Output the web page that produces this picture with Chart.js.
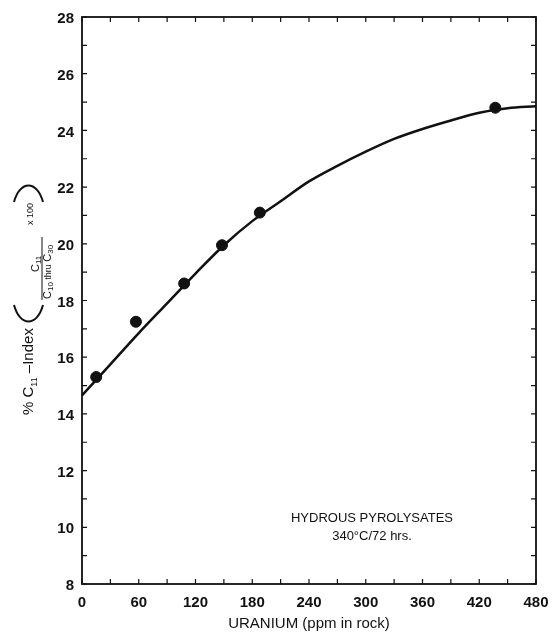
<!DOCTYPE html>
<html>
<head>
<meta charset="utf-8">
<script src="https://cdn.jsdelivr.net/npm/chart.js@4"></script>
<style>
  html, body { margin: 0; padding: 0; background: #fff; }
  #wrap { width: 553px; height: 632px; position: relative; }
</style>
</head>
<body>
<div id="wrap"><canvas id="chart" width="553" height="632"></canvas></div>
<script>
// measured samples
const uranium = [15, 57, 108, 148, 188, 437];
const c11Index = [15.3, 17.25, 18.6, 19.95, 21.1, 24.8];

// fitted curve
const curveX = [0, 30, 60, 90, 120, 150, 180, 210, 240, 270, 300, 330, 360, 390, 420, 450, 480];
const curveY = [14.65, 15.75, 16.85, 17.9, 18.95, 19.95, 20.8, 21.5, 22.2, 22.75, 23.25, 23.7, 24.05, 24.35, 24.62, 24.78, 24.85];

const xMin = 0, xMax = 480, xStep = 60;
const yMin = 8, yMax = 28, yStep = 2;

const FONT = "'Liberation Sans', Arial, sans-serif";
const INK = "#111";

// inward ticks on all four sides + box + text notes
const framePlugin = {
  id: "frame",
  afterDraw(c) {
    const { ctx, chartArea: a, scales } = c;
    const xs = scales.x, ys = scales.y;
    ctx.save();
    ctx.strokeStyle = INK;
    ctx.lineWidth = 1.8;
    ctx.strokeRect(a.left, a.top, a.right - a.left, a.bottom - a.top);

    ctx.lineWidth = 1.2;
    for (let v = xMin; v <= xMax; v += xStep / 2) {
      const px = xs.getPixelForValue(v);
      ctx.beginPath();
      ctx.moveTo(px, a.bottom); ctx.lineTo(px, a.bottom - 5);
      ctx.moveTo(px, a.top); ctx.lineTo(px, a.top + 5);
      ctx.stroke();
    }
    for (let v = yMin; v <= yMax; v += yStep / 2) {
      const py = ys.getPixelForValue(v);
      ctx.beginPath();
      ctx.moveTo(a.left, py); ctx.lineTo(a.left + 5, py);
      ctx.moveTo(a.right, py); ctx.lineTo(a.right - 5, py);
      ctx.stroke();
    }

    // note inside plot
    ctx.fillStyle = INK;
    ctx.textAlign = "center";
    ctx.textBaseline = "middle";
    ctx.font = "13px " + FONT;
    ctx.fillText("HYDROUS PYROLYSATES", 372, 518);
    ctx.fillText("340\u00B0C/72 hrs.", 372, 536);

    drawYTitle(ctx);
    ctx.restore();
  }
};

// rotated title: local y == screen x, local x == 298 - screen y
function drawYTitle(ctx) {
  ctx.save();
  ctx.translate(0, 298);
  ctx.rotate(-Math.PI / 2);
  ctx.fillStyle = INK;
  ctx.strokeStyle = INK;
  ctx.textBaseline = "alphabetic";
  ctx.textAlign = "left";

  let x = -117;
  function put(t, size, base) {
    ctx.font = size + "px " + FONT;
    ctx.fillText(t, x, base);
    x += ctx.measureText(t).width;
  }
  put("% C", 15, 33);
  put("11", 9, 37);
  put(" \u2013Index", 15, 33);

  // parentheses
  ctx.lineWidth = 2;
  ctx.beginPath();
  ctx.moveTo(-7, 14);
  ctx.bezierCurveTo(-29, 20, -29, 37, -7, 43);
  ctx.moveTo(96, 14);
  ctx.bezierCurveTo(118, 20, 118, 37, 96, 43);
  ctx.stroke();

  // fraction line
  ctx.lineWidth = 1;
  ctx.beginPath();
  ctx.moveTo(-2, 42); ctx.lineTo(61, 42);
  ctx.stroke();

  // numerator
  x = 26;
  put("C", 11, 39);
  put("11", 8, 41);

  // denominator
  x = -1;
  put("C", 11, 51);
  put("10", 8, 53);
  put(" thru ", 9, 51);
  put("C", 11, 51);
  put("30", 8, 53);

  x = 73;
  put("x 100", 9, 33);
  ctx.restore();
}

new Chart(document.getElementById("chart"), {
  type: "scatter",
  data: {
    datasets: [
      {
        label: "curve",
        type: "line",
        data: curveX.map((x, i) => ({ x, y: curveY[i] })),
        borderColor: INK,
        borderWidth: 2.5,
        pointRadius: 0,
        cubicInterpolationMode: "monotone",
        fill: false
      },
      {
        label: "samples",
        data: uranium.map((x, i) => ({ x, y: c11Index[i] })),
        backgroundColor: INK,
        borderColor: INK,
        pointRadius: 5.5,
        pointHoverRadius: 5.5
      }
    ]
  },
  options: {
    responsive: false,
    animation: false,
    layout: { padding: { top: 17, right: 17, left: 0, bottom: 0 } },
    plugins: { legend: { display: false }, tooltip: { enabled: false } },
    scales: {
      x: {
        type: "linear",
        min: xMin, max: xMax,
        grid: { display: false, drawTicks: false },
        border: { display: false },
        afterFit(s) { s.height = 48; s.paddingLeft = 0; s.paddingRight = 0; },
        ticks: {
          stepSize: xStep, padding: 10, color: INK,
          font: { family: FONT, size: 15, weight: "bold" }
        },
        title: {
          display: true, text: "URANIUM (ppm in rock)", color: INK,
          font: { family: FONT, size: 15 }, padding: { top: 0, bottom: -1 }
        }
      },
      y: {
        type: "linear",
        min: yMin, max: yMax,
        grid: { display: false, drawTicks: false },
        border: { display: false },
        afterFit(s) { s.width = 82; s.paddingTop = 0; s.paddingBottom = 0; },
        ticks: {
          stepSize: yStep, padding: 8, color: INK, labelOffset: 2,
          font: { family: FONT, size: 15, weight: "bold" }
        }
      }
    }
  },
  plugins: [framePlugin]
});
</script>
</body>
</html>
